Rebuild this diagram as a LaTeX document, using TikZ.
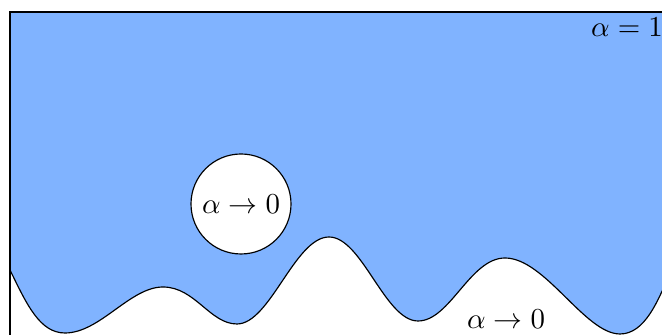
\documentclass[tikz,border=0pt]{standalone}
\usepackage{amsmath}
\definecolor{fluid}{RGB}{128,179,255}
\begin{document}
\begin{tikzpicture}[x=0.346pt,y=-0.346pt,
  lab/.style={inner sep=0pt},
  bubble/.style={circle,draw=black,fill=white,minimum size=34.6pt,inner sep=0pt,line width=0.4pt}]
\useasboundingbox (0,0) rectangle (662,335);
\begin{scope}
\clip (0,0) rectangle (662,335);
\coordinate (tl) at (10,12);
\coordinate (tr) at (700,12);
\coordinate (bl) at (10,360);
\coordinate (c0) at (10,270);
\coordinate (c9) at (668,278);
\fill[fluid] (tl) -- (c0)
  .. controls (27,305) and (40,333) .. (65,333)
  .. controls (100,333) and (130,287) .. (163,287)
  .. controls (195,287) and (210,324) .. (237,324)
  .. controls (270,324) and (295,237) .. (329,237)
  .. controls (362,237) and (385,321) .. (418,321)
  .. controls (450,321) and (470,258) .. (505,258)
  .. controls (545,258) and (585,334) .. (620,334)
  .. controls (645,334) and (658,300) .. (c9)
  -- (700,278) -- (tr) -- cycle;
\draw[line width=0.4pt] (c0)
  .. controls (27,305) and (40,333) .. (65,333)
  .. controls (100,333) and (130,287) .. (163,287)
  .. controls (195,287) and (210,324) .. (237,324)
  .. controls (270,324) and (295,237) .. (329,237)
  .. controls (362,237) and (385,321) .. (418,321)
  .. controls (450,321) and (470,258) .. (505,258)
  .. controls (545,258) and (585,334) .. (620,334)
  .. controls (645,334) and (658,300) .. (c9);
\draw[line width=0.4pt] (bl) -- (tl) -- (tr);
\end{scope}
\node[bubble] (hole) at (241,204) {$\alpha\to 0$};
\node[lab] (top) at (627,27) {$\alpha=1$};
\node[lab] (bot) at (506,319) {$\alpha\to 0$};
\end{tikzpicture}
\end{document}
